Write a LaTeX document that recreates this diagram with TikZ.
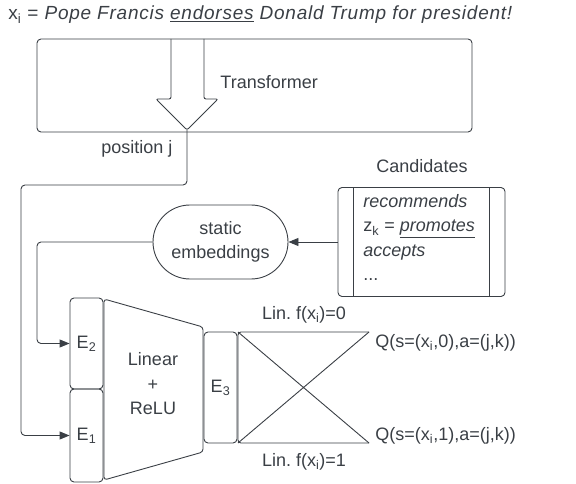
\documentclass[tikz,border=0pt]{standalone}
\usepackage{fontspec}
\setmainfont{Liberation Sans}
\usepackage{xcolor}
\usepackage{tikz}
\usetikzlibrary{positioning, arrows.meta, shapes.misc}
\definecolor{ink}{HTML}{3A3F45}

\begin{document}
\begin{tikzpicture}[x=1pt, y=-1pt, color=ink, line width=0.9pt, font=\fontsize{18}{24.5}\selectfont,
    box/.style = {draw, rounded corners=4pt, inner sep=0pt},
    lbl/.style = {inner sep=0pt},
    flow/.style = {draw, rounded corners=4pt, -{Triangle[length=10pt, width=8pt]}}]
    \useasboundingbox (0,0) rectangle (576,484);

    % 标题
    \node[lbl, anchor=base west, font=\fontsize{19}{24}\selectfont\addfontfeatures{LetterSpace=4.0}] (title) at (8,19.5) {x\textsubscript{i} = \textit{Pope Francis \underline{endorses} Donald Trump for president!}};

    % Transformer
    \node[box, minimum width=435pt, minimum height=93pt] (trans) at (254.5,85.5) {};
    \node[lbl, anchor=west] (translbl) at (220,82) {Transformer};
    \draw[rounded corners=2pt] (171,39) -- (171,99) -- (156,99) -- (187,130) -- (218,99) -- (204,99) -- (204,39);
    \coordinate (tip) at (187,130);
    \node[lbl] (pos) at (137,149) {position j};

    % Candidates
    \node[lbl] (candlbl) at (422,166) {Candidates};
    \node[box, minimum width=167pt, minimum height=109pt] (cand) at (421.5,242) {};
    \draw ([xshift=16pt]cand.north west) -- ([xshift=16pt]cand.south west);
    \draw ([xshift=-16pt]cand.north east) -- ([xshift=-16pt]cand.south east);
    \node[lbl, anchor=north west, align=left] (candlist) at (363,194) {\textit{recommends}\\z\textsubscript{k} = \textit{\underline{promotes}}\\\textit{accepts}\\...};
    \node[draw, rounded rectangle, minimum width=135pt, minimum height=74pt, align=center, inner sep=0pt] (emb) at (220.5,242) {static\\embeddings};

    % 网络
    \node[box, minimum width=33pt, minimum height=91pt] (e2) at (86.5,343.5) {E\textsubscript{2}};
    \node[box, minimum width=33pt, minimum height=93pt] (e1) at (86.5,435.5) {E\textsubscript{1}};
    \draw[rounded corners=3pt] (104,299) -- (203,327) -- (203,452) -- (104,480) -- cycle;
    \node[lbl, align=center] (relu) at (153,384) {Linear\\+\\ReLU};
    \node[box, minimum width=33pt, minimum height=111pt] (e3) at (220.5,387.5) {E\textsubscript{3}};
    \draw[rounded corners=3pt] (369,332) -- (238,332) -- (238,443) -- (369,443);
    \draw (238,332) -- (369,443) (238,443) -- (369,332);
    \node[lbl] (lin0) at (304,315) {Lin.\ f(x\textsubscript{i})=0};
    \node[lbl] (lin1) at (304,461.5) {Lin.\ f(x\textsubscript{i})=1};
    \node[lbl, anchor=west] (q0) at (375,343) {Q(s=(x\textsubscript{i},0),a=(j,k))};
    \node[lbl, anchor=west] (q1) at (375,436) {Q(s=(x\textsubscript{i},1),a=(j,k))};

    % 连线
    \draw[flow] (tip) |- (21,185) |- (e1.west);
    \draw[flow] (emb.west) -| (37,343.5) -- (e2.west);
    \draw[flow] (cand.west) -- (emb.east);
\end{tikzpicture}
\end{document}
